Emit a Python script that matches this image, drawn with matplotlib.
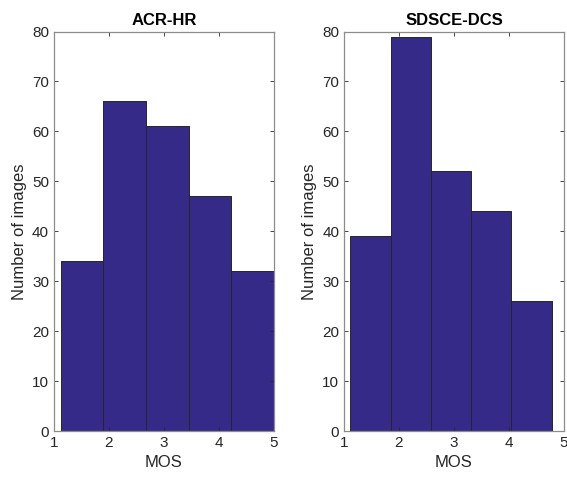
import matplotlib
matplotlib.use("Agg")
import matplotlib.pyplot as plt
import numpy as np

plt.rcParams['font.family'] = ['Liberation Sans', 'DejaVu Sans']

titles = ["ACR-HR", "SDSCE-DCS"]
acr_edges = [1.12, 1.896, 2.672, 3.448, 4.224, 5.0]
acr_counts = [34, 66, 61, 47, 32]
sds_edges = [1.118, 1.849, 2.58, 3.311, 4.042, 4.773]
sds_counts = [39, 79, 52, 44, 26]

face = '#352a87'
fig = plt.figure(figsize=(5.67, 4.79), dpi=100)
positions = [[0.0952, 0.1002, 0.388, 0.834], [0.6067, 0.1002, 0.388, 0.834]]
data = [(acr_edges, acr_counts), (sds_edges, sds_counts)]
for pos, title, (edges, counts) in zip(positions, titles, data):
    ax = fig.add_axes(pos)
    edges = np.array(edges)
    ax.bar(edges[:-1], counts, width=np.diff(edges), align='edge',
           color=face, edgecolor='#262626', linewidth=0.7)
    ax.set_xlim(1, 5)
    ax.set_ylim(0, 80)
    ax.set_xticks([1, 2, 3, 4, 5])
    ax.set_yticks(range(0, 81, 10))
    ax.tick_params(direction='in', top=True, right=True, length=3,
                   labelsize=11, color='#262626', labelcolor='#262626', width=0.6)
    for s in ax.spines.values():
        s.set_color('#8c8c8c')
        s.set_linewidth(0.9)
    ax.set_title(title, fontsize=12, fontweight='bold', pad=5)
    ax.set_xlabel('MOS', fontsize=12, color='#262626')
    ax.set_ylabel('Number of images', fontsize=12, color='#262626')

fig.savefig('out.png', dpi=100)
